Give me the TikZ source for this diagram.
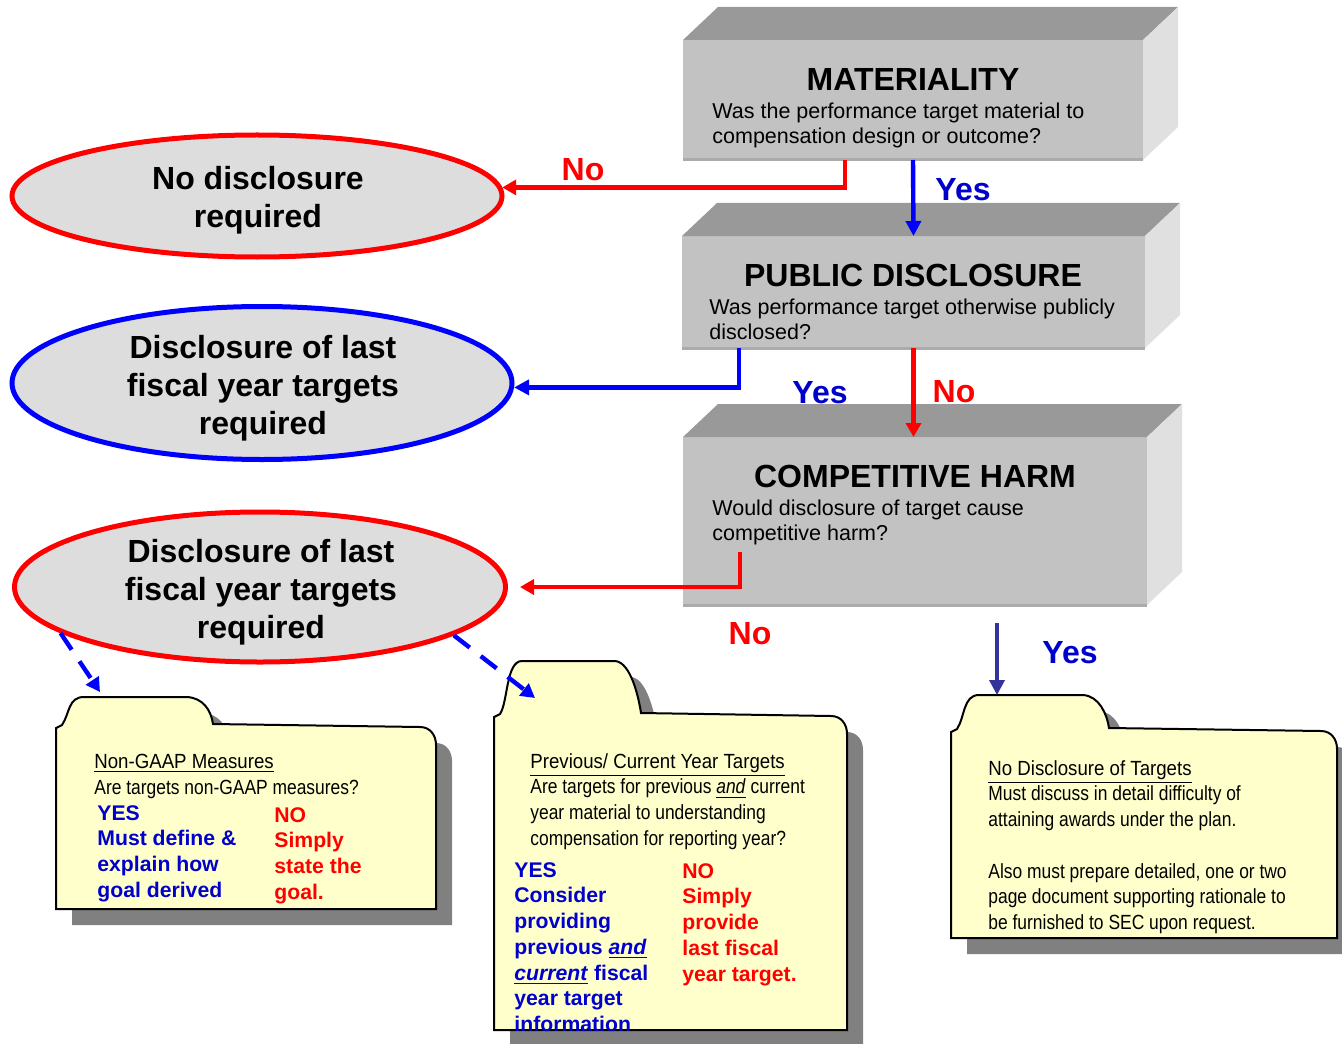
\documentclass[tikz,border=0pt]{standalone}
\usepackage{fontspec}
\setmainfont{Liberation Sans}
\newfontfamily\narrowfont{Liberation Sans}[FakeStretch=0.85]
\newfontfamily\narrowhead{Liberation Sans}[FakeStretch=0.91]
\usetikzlibrary{positioning,shapes.geometric,arrows.meta,calc,shadows}

\definecolor{boxfront}{HTML}{C2C2C2}
\definecolor{boxtop}{HTML}{999999}
\definecolor{boxside}{HTML}{E0E0E0}
\definecolor{boxedge}{HTML}{ABABAB}
\definecolor{ovalgray}{HTML}{DDDDDD}
\definecolor{folderyellow}{HTML}{FFFFCC}
\definecolor{yesblue}{HTML}{0000CC}
\definecolor{navyline}{HTML}{333399}

% folder outline round a body node: #1 node, #2 tab height, #3 tab right
\newcommand\drawfolder[3]{%
  \draw[folder] ($(#1.north west)+(0,1)$) -- ++(6,-3)
    .. controls +(8,-12) and +(-16,0) .. ($(#1.north west)+(28,-#2)$)
    -- ($(#1.north west)+(#3,-#2)$)
    .. controls +(16,1) and +(-2,-14) .. ($(#1.north west)+(#3+26,-3)$)
    -- ($(#1.north east)+(-16,0)$)
    .. controls +(10,0) and +(0,-10) .. ($(#1.north east)+(0,18)$)
    -- (#1.south east) -- (#1.south west) -- cycle;}

\begin{document}
\begin{tikzpicture}[x=0.5pt,y=-0.5pt,
  front/.style={fill=boxfront,draw=none,inner sep=0pt,outer sep=0pt},
  boxtitle/.style={font=\fontsize{16}{18}\selectfont\bfseries},
  boxtext/.style={font=\fontsize{10.75}{12.5}\selectfont,align=left,inner sep=0pt,anchor=north west},
  oval/.style={ellipse,fill=ovalgray,line width=2.5pt,inner sep=0pt},
  ovaltext/.style={align=center,inner sep=0pt,font=\fontsize{16}{19}\selectfont\bfseries},
  nolabel/.style={text=red,font=\fontsize{16}{19}\selectfont\bfseries},
  yeslabel/.style={text=yesblue,font=\fontsize{16}{19}\selectfont\bfseries},
  noarrow/.style={draw=red,line width=2.2pt,-{Triangle[length=7pt,width=7.5pt]}},
  yesarrow/.style={draw=blue,line width=2.2pt,-{Triangle[length=7.5pt,width=7.5pt]}},
  navyarrow/.style={draw=navyline,line width=1.8pt,-{Triangle[length=7.5pt,width=7.5pt]}},
  dasharrow/.style={draw=blue,line width=2.2pt,dash pattern=on 10pt off 7pt,
    -{Triangle[length=7pt,width=7.5pt]}},
  folderbody/.style={draw=none,inner sep=0pt,outer sep=0pt},
  folder/.style={draw=black,line width=1pt,fill=folderyellow,
    drop shadow={shadow xshift=8pt,shadow yshift=-8pt,fill=black!50,opacity=1}},
  foldertitle/.style={font=\narrowfont\fontsize{10.25}{12.85}\selectfont,align=left,
    inner sep=0pt,anchor=north west},
  yescol/.style={text=yesblue,font=\fontsize{10.6}{12.85}\selectfont\bfseries,align=left,
    inner sep=0pt,anchor=north west},
  nocol/.style={text=red,font=\fontsize{10.6}{12.85}\selectfont\bfseries,align=left,
    inner sep=0pt,anchor=north west}]

\useasboundingbox (0,0) rectangle (1342,1043);

% question boxes
\node[front,minimum width=230pt,minimum height=60pt] (mat) at (913,100) {};
\node[front,minimum width=231.5pt,minimum height=56pt] (pub) at (913.5,292) {};
\node[front,minimum width=232pt,minimum height=84pt] (harm) at (915,521) {};
\foreach \b in {mat,pub,harm} {
  \fill[boxtop] (\b.north west) -- ++(35,-33) -- ([shift={(35,-33)}]\b.north east)
    -- (\b.north east) -- cycle;
  \fill[boxside] (\b.north east) -- ++(35,-33) -- ([shift={(35,-33)}]\b.south east)
    -- (\b.south east) -- cycle;
  \draw[boxedge,line width=1.5pt] (\b.south west) -- (\b.south east);
}

\node[boxtitle] (mattitle) at (913,79) {MATERIALITY};
\node[boxtext] (matq) at (712,103) {Was the performance target material to\\compensation design or outcome?};
\node[boxtitle] (pubtitle) at (913,275) {PUBLIC DISCLOSURE};
\node[boxtext] (pubq) at (709,299) {Was performance target otherwise publicly\\disclosed?};
\node[boxtitle] (harmtitle) at (915,476) {COMPETITIVE HARM};
\node[boxtext] (harmq) at (712,500) {Would disclosure of target cause\\competitive harm?};

% outcomes
\node[oval,draw=red,minimum width=245pt,minimum height=61pt] (nodisc) at (257,196) {};
\node[ovaltext] (nodisctxt) at (258,200) {No disclosure\\required};
\node[oval,draw=blue,minimum width=250pt,minimum height=76.5pt] (lastyr) at (262,383) {};
\node[ovaltext] (lastyrtxt) at (263,388) {Disclosure of last\\fiscal year targets\\required};
\node[oval,draw=red,minimum width=245.5pt,minimum height=75pt] (lastyrb) at (260,587) {};
\node[ovaltext] (lastyrbtxt) at (261,592) {Disclosure of last\\fiscal year targets\\required};

% folders
\node[folderbody,minimum width=190pt,minimum height=91pt] (gaap) at (246,818) {};
\node[folderbody,minimum width=176.5pt,minimum height=157pt] (prevcur) at (670.5,873) {};
\node[folderbody,minimum width=193pt,minimum height=103.5pt] (nodiscf) at (1144,834.5) {};
\drawfolder{gaap}{30}{131}
\drawfolder{prevcur}{55}{121}
\drawfolder{nodiscf}{36}{132}

\node[foldertitle] (gaaphead) at (94,754)
  {{\narrowhead\underline{Non-GAAP Measures}}\\Are targets non-GAAP measures?};
\node[yescol] (gaapyes) at (97,805) {YES\\Must define \&\\explain how\\goal derived};
\node[nocol] (gaapno) at (274,807) {NO\\Simply\\state the\\goal.};

\node[foldertitle] (prevhead) at (530,753)
  {{\narrowhead\underline{Previous/ Current Year Targets}}\\Are targets for previous \underline{\textit{and}} current\\year material to understanding\\compensation for reporting year?};
\node[yescol] (prevyes) at (514,862)
  {YES\\Consider\\providing\\previous \underline{\textit{and}}\\\underline{\textit{current}} fiscal\\year target\\information};
\node[nocol] (prevno) at (682,863) {NO\\Simply\\provide\\last fiscal\\year target.};

\node[foldertitle] (nodischead) at (988,760)
  {{\narrowhead\underline{No Disclosure of Targets}}\\Must discuss in detail difficulty of\\attaining awards under the plan.\\[12.85pt]Also must prepare detailed, one or two\\page document supporting rationale to\\be furnished to SEC upon request.};

% connectors
\draw[noarrow] ([xshift=-34pt]mat.south) |- (nodisc.2);
\draw[yesarrow] (mat.south) -- (pub.north);
\draw[yesarrow] ([xshift=-87.25pt]pub.south) |- (lastyr.-1);
\draw[noarrow] (pub.south) -- (pub.south |- harm.north);
\draw[noarrow,shorten >=6pt] ([xshift=-87.5pt,yshift=26.5pt]harm.south) |- (lastyrb.east);
\coordinate (harmyes) at ([xshift=41pt,yshift=-9pt]harm.south);
\draw[navyarrow] (harmyes) -- ([xshift=23pt,yshift=18pt]nodiscf.north west);
\draw[dasharrow] (lastyrb.193) -- ([xshift=22pt,yshift=17.5pt]gaap.north west);
\draw[dasharrow] (lastyrb.-14) -- ([xshift=20.5pt,yshift=9pt]prevcur.north west);

\node[nolabel] (no1) at (583,170) {No};
\node[yeslabel] (yes1) at (963,190) {Yes};
\node[yeslabel] (yes2) at (820,393) {Yes};
\node[nolabel] (no2) at (954,392) {No};
\node[nolabel] (no3) at (750,634) {No};
\node[yeslabel] (yes3) at (1070,653) {Yes};
\end{tikzpicture}
\end{document}
